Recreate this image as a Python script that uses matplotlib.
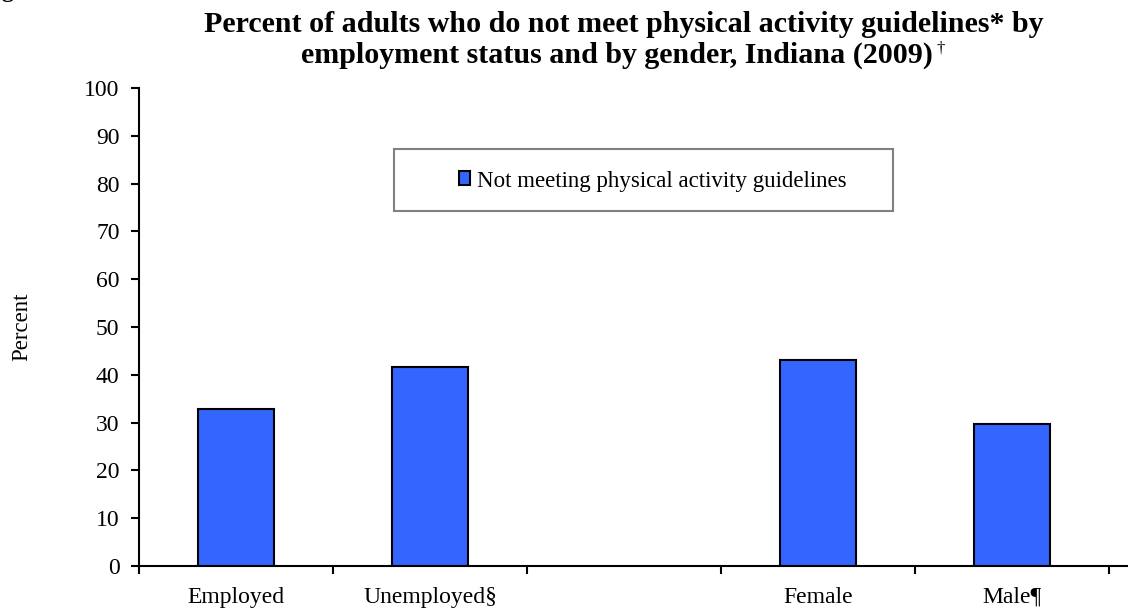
import matplotlib
matplotlib.use("Agg")
import matplotlib.pyplot as plt
from matplotlib.patches import Patch, Rectangle

# Data
categories = ["Employed", "Unemployed\u00a7", "", "Female", "Male\u00b6"]
values = [32.8, 41.6, None, 43.1, 29.7]
yticks = [0, 10, 20, 30, 40, 50, 60, 70, 80, 90, 100]
series_name = "Not meeting physical activity guidelines"
title_line1 = "Percent of adults who do not meet physical activity guidelines* by"
title_line2 = "employment status and by gender, Indiana (2009)"

BAR_COLOR = "#3366FF"
SERIF = ["Liberation Serif", "DejaVu Serif"]

plt.rcParams["font.family"] = SERIF

W, H = 1128, 608
fig = plt.figure(figsize=(W / 100, H / 100), dpi=100)
fig.patch.set_facecolor("white")

SLOT = 194.0  # pixel width of one category slot
ax_left, ax_right = 139 / W, 1.0
ax_bottom, ax_top = (H - 566) / H, (H - 88) / H
ax = fig.add_axes([ax_left, ax_bottom, ax_right - ax_left, ax_top - ax_bottom])

xs = [i for i, v in enumerate(values) if v is not None]
hs = [v for v in values if v is not None]
ax.bar(xs, hs, width=0.39, color=BAR_COLOR, edgecolor="black", linewidth=1.5,
       zorder=3, label=series_name)

ax.set_ylim(0, 100)
ax.set_yticks(yticks)
ax.set_yticklabels([str(t) for t in yticks], fontsize=17)

n = len(categories)
ax.set_xlim(-0.5, -0.5 + (W - 139) / SLOT)
# category labels centred under each slot, ticks on slot boundaries
ax.set_xticks(range(n))
ax.set_xticklabels(categories, fontsize=17)
ax.tick_params(axis="x", which="major", length=0, pad=15)
ax.set_xticks([i - 0.5 for i in range(n + 1)], minor=True)
ax.tick_params(axis="x", which="minor", length=6, width=1.5, direction="out")
ax.tick_params(axis="y", length=6, width=1.5, direction="out", pad=8)

for side in ("top", "right"):
    ax.spines[side].set_visible(False)
for side in ("left", "bottom"):
    ax.spines[side].set_linewidth(1.5)

ax.set_ylabel("Percent", fontsize=16.5, labelpad=37)

# Legend with a separately drawn grey frame
leg = fig.legend(
    handles=[Patch(facecolor=BAR_COLOR, edgecolor="black", linewidth=1.5, label=series_name)],
    loc="center", bbox_to_anchor=(653 / W, 1 - 181 / H),
    frameon=False, fontsize=16.5,
    handlelength=0.48, handleheight=0.57, handletextpad=0.28,
    borderpad=0, borderaxespad=0,
)
fig.add_artist(Rectangle((394 / W, 1 - 211 / H), (893 - 394) / W, (211 - 149) / H,
                         transform=fig.transFigure, facecolor="none",
                         edgecolor="#808080", linewidth=1.5, zorder=5))

# Title
fig.text(624 / W, 1 - 32 / H, title_line1, ha="center", va="baseline",
         fontsize=21.6, fontweight="bold")
t2 = fig.text(617 / W, 1 - 63 / H, title_line2, ha="center", va="baseline",
              fontsize=21.6, fontweight="bold")
fig.canvas.draw()
bb = t2.get_window_extent()
fig.text((bb.x1 + 4) / W, 1 - 40 / H, "\u2020", ha="left", va="top", fontsize=12)

# fragment of figure caption at the top-left edge
fig.text(1 / W, 1 + 3 / H, "g", ha="left", va="baseline", fontsize=17, fontweight="bold")

fig.savefig("out.png", dpi=100)
